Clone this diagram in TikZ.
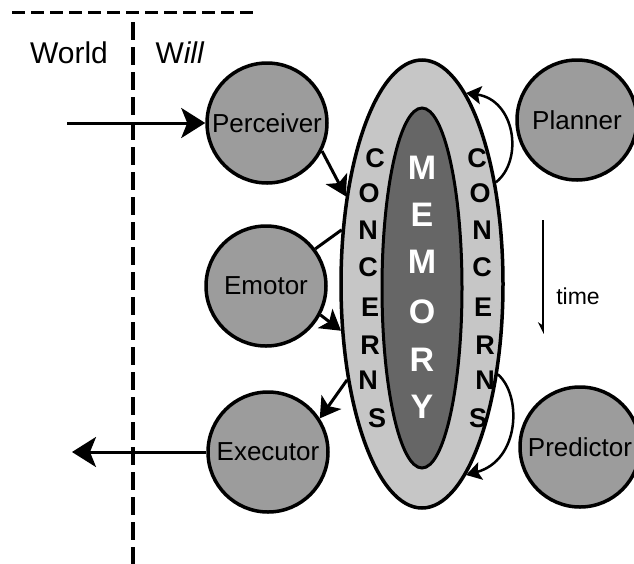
\documentclass[tikz,border=0pt]{standalone}
\usepackage{fontspec}
\setmainfont{Liberation Sans}
\usetikzlibrary{arrows.meta,shapes.geometric}

\definecolor{agentgray}{HTML}{9C9C9C}
\definecolor{concerngray}{HTML}{C6C6C6}
\definecolor{memorygray}{HTML}{666666}

\begin{document}
\begin{tikzpicture}[x=1pt,y=-1pt,
  agent/.style={circle,draw,line width=3.5pt,fill=agentgray,minimum size=120pt,
    inner sep=0pt,font=\fontsize{26}{26}\selectfont},
  link/.style={line width=3pt},
  arr/.style={link,-{Stealth[length=20pt,width=24pt,inset=5pt]}},
  loopback/.style={line width=2.5pt,-{Stealth[length=15pt,width=18pt,inset=3pt]}},
  bigarr/.style={line width=3pt,-{Stealth[length=24pt,width=30pt,inset=6pt]}},
  letter/.style={font=\bfseries\fontsize{27}{27}\selectfont,inner sep=0pt},
  memletter/.style={font=\bfseries\fontsize{34}{34}\selectfont,text=white,inner sep=0pt},
  label/.style={font=\fontsize{30}{30}\selectfont,inner sep=0pt},
]
\useasboundingbox (0,0) rectangle (634,563);

% world / will boundary
\coordinate (topl) at (12,12);
\coordinate (topr) at (257,12);
\coordinate (divt) at (133,22);
\coordinate (divb) at (133,566);
\draw[line width=3pt,dash pattern=on 13pt off 6pt] (topl) -- (topr);
\draw[line width=3.5pt,dash pattern=on 18pt off 7pt] (divt) -- (divb);
\node[label] (world) at (69,53) {World};
\node[label] (will) at (180,53) {W\textit{ill}};

% concerns and memory
\node[ellipse,draw,line width=3.5pt,fill=concerngray,minimum width=162pt,
  minimum height=448pt,inner sep=0pt] (outer) at (422,284) {};
\node[ellipse,draw,line width=3pt,fill=memorygray,minimum width=80pt,
  minimum height=360pt,inner sep=0pt] (inner) at (422,288) {};

\foreach \ch/\x/\y [count=\i] in {C/375/158,O/369/193,N/368/230,C/368/267,
    E/370/307,R/370/345,N/368/380,S/377/418}
  \node[letter] (cl\i) at (\x,\y) {\ch};
\foreach \ch/\x/\y [count=\i] in {C/477/158,O/480/193,N/482/230,C/482/267,
    E/483/307,R/485/345,N/485/380,S/478/418}
  \node[letter] (cr\i) at (\x,\y) {\ch};
\foreach \ch/\y [count=\i] in {M/168,E/215,M/262,O/312,R/360,Y/407}
  \node[memletter] (mem\i) at (422,\y) {\ch};

% agents
\node[agent] (perceiver) at (267,123) {Perceiver};
\node[agent] (emotor) at (266,286) {Emotor};
\node[agent] (executor) at (268,452) {Executor};
\node[agent] (planner) at (577,120) {Planner};
\node[agent] (predictor) at (580,447) {Predictor};

% flows between agents and concerns
\coordinate (inworld) at (67,123);
\coordinate (outworld) at (72,452);
\draw[bigarr] (inworld) -- (perceiver.west);
\draw[bigarr] (executor.west) -- (outworld);
\draw[arr] (perceiver.-27) -- (outer.131);
\draw[link] (emotor.37) -- (outer.146);
\draw[arr] (emotor.-28) -- (outer.210);
\draw[arr] (outer.232) -- (executor.33);
\draw[loopback] (outer.54) .. controls (524,160) and (515,100) .. (outer.77);
\draw[loopback] (outer.-50) .. controls (522,395) and (520,460) .. (outer.-77);

% time axis
\coordinate (tstart) at (543,220);
\coordinate (tend) at (543,334);
\draw[line width=2.5pt,-{Stealth[length=10pt,width=10pt,harpoon,swap]}] (tstart) -- (tend);
\node[font=\fontsize{23}{23}\selectfont,inner sep=0pt] (time) at (578,296) {time};
\end{tikzpicture}
\end{document}
